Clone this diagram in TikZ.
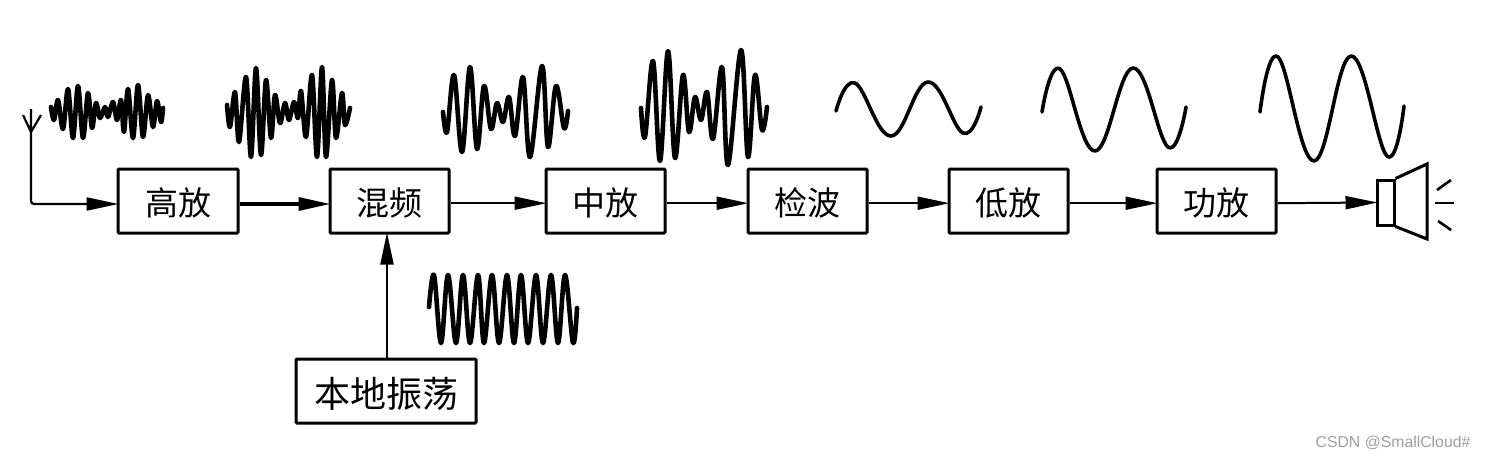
\documentclass[tikz,border=0pt]{standalone}
\usepackage{fontspec}
\setmainfont{Liberation Sans}
\newfontfamily\cjk{Noto Sans CJK SC}
\usetikzlibrary{arrows.meta}
\tikzset{
  blockbox/.style={draw=black,line width=1.5pt,rounded corners=0.5pt,fill=white,minimum width=#1,minimum height=32pt,inner sep=0pt,text height=15pt,text depth=0.8pt,font=\cjk\fontsize{16.5}{18}\selectfont},
  blockbox/.default=60pt,
  conn/.style={line width=1pt,-{Triangle[length=16pt,width=6.5pt]},shorten >=-1pt},
  thickconn/.style={conn,line width=1.7pt},
  wave/.style={line width=2.3pt,line join=round,line cap=round},
  sine/.style={line width=1.8pt,line join=round,line cap=round},
  part/.style={line width=1.5pt,line join=miter},
  ray/.style={line width=1.3pt},
}
\begin{document}
\begin{tikzpicture}[x=.5pt,y=-.5pt]
\useasboundingbox (0,0) rectangle (1486,460);
% blocks
\node[blockbox=60pt] (gf) at (178,201) {高放};
\node[blockbox=59.5pt] (hp) at (389.5,201) {混频};
\node[blockbox=59.5pt] (zf) at (605.5,201) {中放};
\node[blockbox=59.5pt] (jb) at (807.5,201) {检波};
\node[blockbox=59.5pt] (df) at (1008.5,201) {低放};
\node[blockbox=59.5pt] (pa) at (1216.5,201) {功放};
\node[blockbox=90pt,text height=17pt,text depth=0.4pt,font=\cjk\fontsize{18}{20}\selectfont] (lo) at (386,391) {本地振荡};
% antenna
\coordinate (ant) at (31,132);
\coordinate (antL) at (23,115);
\coordinate (antR) at (41,115);
\coordinate (antT) at (31,109);
\draw[line width=1.1pt] (antL) -- (ant) -- (antR) (ant) -- (antT);
\draw[conn,line width=1.1pt,rounded corners=1.5pt] (ant) |- ([yshift=-1.5pt]gf.west);
% connectors
\draw[thickconn] ([yshift=-1.5pt]gf.east) -- ([yshift=-1.5pt]hp.west);
\draw[conn] ([yshift=-1.1pt]hp.east) -- ([yshift=-1.1pt]zf.west);
\draw[conn] ([yshift=-1.1pt]zf.east) -- ([yshift=-1.1pt]jb.west);
\draw[conn] ([yshift=-1.1pt]jb.east) -- ([yshift=-1.1pt]df.west);
\draw[conn] ([yshift=-1.1pt]df.east) -- ([yshift=-1.1pt]pa.west);
\draw[conn] (lo.north -| hp.south) ++(-1.25pt,0) -- ([xshift=-1.25pt]hp.south);
% speaker
\node[draw=black,line width=1.5pt,minimum width=8.5pt,minimum height=22.5pt,inner sep=0pt] (spk) at (1385.5,202.5) {};
\coordinate (c1) at (1427,164);
\coordinate (c2) at (1427,239);
\draw[part] (spk.north east) -- (c1) -- (c2) -- (spk.south east);
\draw[conn] ([yshift=-1.1pt]pa.east) -- (spk.west);
\draw[ray] (1437,190) -- (1451,180);
\draw[ray] (1435,203) -- (1454,203);
\draw[ray] (1438,221) -- (1451,230);
% signal waves
\draw[wave] plot[smooth,tension=0.55] coordinates {(51,107)(54,120)(58,100)(63,129)(68,89)(73,138)(78,86)(83,138)(88,93)(92,128)(96,103)(100,118)(105,107)(108,117)(113,102)(117,120)(121,100)(124,132)(128,89)(133,138)(138,85)(143,137)(148,95)(153,127)(157,101)(161,122)(163,108)};
\draw[wave] plot[smooth,tension=0.55] coordinates {(227,105)(230,127)(235,92)(239,142)(246,77)(251,157)(256,68)(261,155)(266,80)(271,138)(275,95)(280,123)(285,103)(289,120)(294,102)(298,118)(301,91)(306,137)(312,75)(317,157)(322,67)(326,157)(332,80)(336,138)(342,93)(345,125)(350,108)};
\draw[wave] plot[smooth,tension=0.6] coordinates {(443,112)(447,132)(454,75)(462,152)(470,67)(477,149)(484,86)(491,129)(497,103)(503,122)(509,97)(515,136)(523,77)(530,157)(542,66)(548,147)(556,86)(564,128)(568,111)};
\draw[wave] plot[smooth,tension=0.6] coordinates {(641,108)(645,137)(653,61)(660,161)(668,51)(675,158)(683,75)(689,132)(695,97)(701,120)(707,92)(713,139)(722,67)(728,165)(741,50)(748,157)(755,75)(762,130)(767,107)};
\draw[sine] plot[smooth,tension=0.7] coordinates {(836,111)(855,83)(891,136)(928,82)(963,133)(981,107)};
\draw[sine] plot[smooth,tension=0.7] coordinates {(1042,112)(1060,69)(1095,151)(1133,68)(1168,147)(1186,107)};
\draw[sine] plot[smooth,tension=0.7] coordinates {(1260,112)(1278,57)(1314,161)(1351,56)(1387,156)(1404,106)};
\draw[wave] plot[smooth,tension=0.6] coordinates {(429,307)(434,275)(441,343)(448,275)(456,343)(463,275)(470,343)(478,275)(484,343)(492,275)(499,343)(507,275)(514,343)(521,275)(528,343)(536,275)(543,343)(551,275)(558,343)(565,275)(573,343)(577,308)};
% watermark
\node[anchor=center,text=black!38,font=\fontsize{7.9}{9}\selectfont,inner sep=0pt] (wm) at (1393,443) {CSDN @SmallCloud\#};
\end{tikzpicture}
\end{document}
